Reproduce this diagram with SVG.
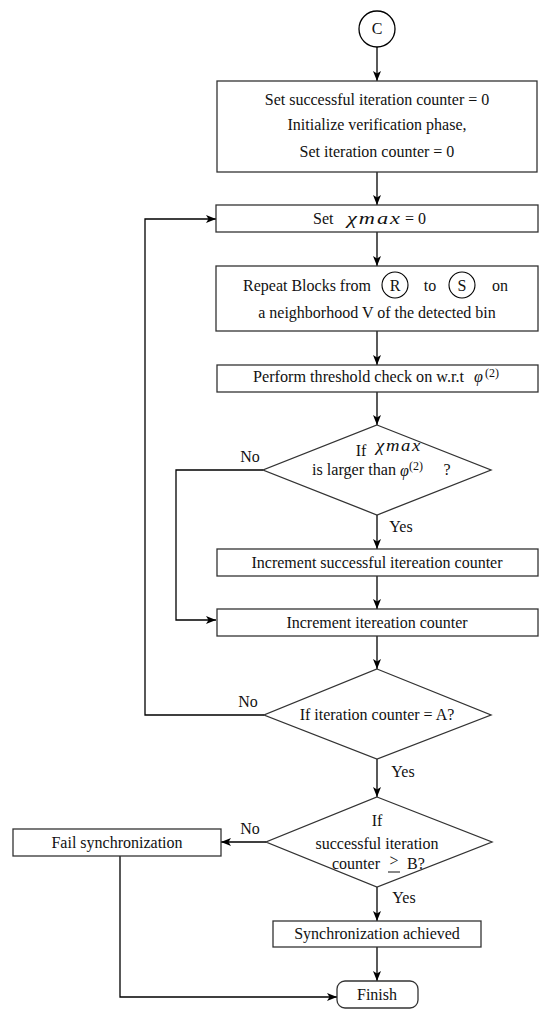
<svg xmlns="http://www.w3.org/2000/svg" width="541" height="1010" viewBox="0 0 541 1010" font-family="'Liberation Serif','Times New Roman',serif">
<defs>
<marker id="arr" viewBox="0 0 10 8" refX="10" refY="4" markerWidth="10" markerHeight="8" markerUnits="userSpaceOnUse" orient="auto">
<path d="M0,0 L10,4 L0,8 L2.5,4 z" fill="#000"/>
</marker>
</defs>
<style>
.box{fill:#fff;stroke:#333;stroke-width:1.3}
.ln{fill:none;stroke:#000;stroke-width:1.3}
text{font-family:'Liberation Serif','Times New Roman',serif;font-size:16px;fill:#111;text-anchor:middle}
.s{text-anchor:start}
.m{font-style:italic;text-anchor:start}
.chi{font-style:italic;text-anchor:start;font-size:17px;letter-spacing:1.5px}
.sup{font-size:12px;text-anchor:start}
</style>
<rect width="541" height="1010" fill="#fff"/>
<g id="connectors">
<line class="ln" x1="377" y1="47" x2="377" y2="81" marker-end="url(#arr)"/>
<line class="ln" x1="377" y1="172" x2="377" y2="205" marker-end="url(#arr)"/>
<line class="ln" x1="377" y1="232" x2="377" y2="266" marker-end="url(#arr)"/>
<line class="ln" x1="377" y1="331" x2="377" y2="365" marker-end="url(#arr)"/>
<line class="ln" x1="377" y1="392" x2="377" y2="425" marker-end="url(#arr)"/>
<line class="ln" x1="377" y1="515" x2="377" y2="549" marker-end="url(#arr)"/>
<line class="ln" x1="377" y1="576" x2="377" y2="609" marker-end="url(#arr)"/>
<line class="ln" x1="377" y1="636" x2="377" y2="669" marker-end="url(#arr)"/>
<line class="ln" x1="377" y1="759" x2="377" y2="797" marker-end="url(#arr)"/>
<line class="ln" x1="377" y1="887" x2="377" y2="921" marker-end="url(#arr)"/>
<line class="ln" x1="377" y1="947" x2="377" y2="981" marker-end="url(#arr)"/>
<polyline class="ln" points="263,470 176,470 176,620 216,620" marker-end="url(#arr)"/>
<polyline class="ln" points="264,715 145,715 145,219 216,219" marker-end="url(#arr)"/>
<line class="ln" x1="266" y1="842" x2="221" y2="842" marker-end="url(#arr)"/>
<polyline class="ln" points="120,856 120,997 337,997" marker-end="url(#arr)"/>
<text x="250" y="462">No</text>
<text x="248" y="707">No</text>
<text x="250" y="834">No</text>
<text x="401" y="532">Yes</text>
<text x="403" y="777">Yes</text>
<text x="404" y="903">Yes</text>
</g>
<g id="start">
<circle cx="377" cy="29" r="18" fill="#fff" stroke="#000" stroke-width="1.3"/>
<text x="377" y="34">C</text>
</g>
<g id="init">
<rect class="box" x="217" y="81" width="320" height="91"/>
<text x="377" y="105">Set successful iteration counter = 0</text>
<text x="377" y="130">Initialize verification phase,</text>
<text x="377" y="157">Set iteration counter = 0</text>
</g>
<g id="setchi">
<rect class="box" x="216" y="205" width="322" height="27"/>
<text x="313" y="224" class="s">Set</text>
<text x="347" y="224" class="chi" textLength="55" lengthAdjust="spacingAndGlyphs">χmax</text>
<text x="405" y="224" class="s">= 0</text>
</g>
<g id="repeat">
<rect class="box" x="216" y="266" width="322" height="65"/>
<text x="243" y="291" class="s">Repeat Blocks from</text>
<circle cx="395" cy="285" r="13" fill="none" stroke="#000" stroke-width="1.1"/>
<text x="395" y="291">R</text>
<text x="430" y="291">to</text>
<circle cx="462" cy="285" r="13" fill="none" stroke="#000" stroke-width="1.1"/>
<text x="462" y="291">S</text>
<text x="500" y="291">on</text>
<text x="377" y="318">a neighborhood V of the detected bin</text>
</g>
<g id="threshold">
<rect class="box" x="217" y="365" width="321" height="27"/>
<text x="253" y="382" class="s" textLength="211" lengthAdjust="spacingAndGlyphs">Perform threshold check on w.r.t</text>
<text x="474" y="382" class="m">φ</text>
<text x="485" y="377" class="sup">(2)</text>
</g>
<g id="dec1">
<polygon class="box" points="377,425 491,470 377,515 263,470"/>
<text x="361" y="456">If</text>
<text x="376" y="451" class="chi" textLength="46" lengthAdjust="spacingAndGlyphs">χmax</text>
<text x="312" y="475" class="s" textLength="84" lengthAdjust="spacingAndGlyphs">is larger than</text>
<text x="400" y="476" class="m">φ</text>
<text x="409" y="470" class="sup">(2)</text>
<text x="447" y="475">?</text>
</g>
<g id="incsucc">
<rect class="box" x="217" y="549" width="321" height="27"/>
<text x="377" y="568">Increment successful itereation counter</text>
</g>
<g id="incit">
<rect class="box" x="217" y="609" width="321" height="27"/>
<text x="377" y="628">Increment itereation counter</text>
</g>
<g id="dec2">
<polygon class="box" points="377,669 491,715 377,759 264,715"/>
<text x="377" y="720">If iteration counter = A?</text>
</g>
<g id="dec3">
<polygon class="box" points="377,797 492,842 377,887 266,842"/>
<text x="377" y="826">If</text>
<text x="377" y="849">successful iteration</text>
<text x="332" y="869" class="s">counter</text>
<text x="394" y="866">&gt;</text>
<line x1="388" y1="872" x2="400" y2="872" stroke="#111" stroke-width="1"/>
<text x="407" y="869" class="s">B?</text>
</g>
<g id="fail">
<rect class="box" x="13" y="829" width="208" height="27"/>
<text x="117" y="848">Fail synchronization</text>
</g>
<g id="achieved">
<rect class="box" x="273" y="921" width="208" height="26"/>
<text x="377" y="939">Synchronization achieved</text>
</g>
<g id="finish">
<rect class="box" x="337" y="981" width="81" height="27" rx="8"/>
<text x="377" y="1000">Finish</text>
</g>
</svg>
